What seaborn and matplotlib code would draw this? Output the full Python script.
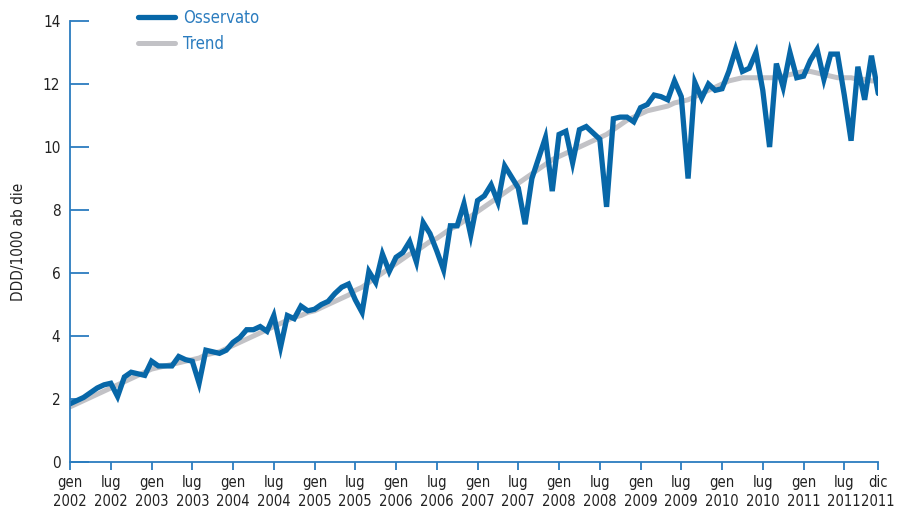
import matplotlib.pyplot as plt
import pandas as pd
import seaborn as sns

# Monthly values, gen 2002 .. dic 2011 (DDD/1000 ab die)
observed = [
    1.85, 1.95, 2.05, 2.2, 2.35, 2.45, 2.5, 2.08, 2.7, 2.85, 2.8, 2.75,
    3.2, 3.05, 3.05, 3.05, 3.35, 3.25, 3.2, 2.5, 3.55, 3.5, 3.45, 3.55,
    3.8, 3.95, 4.2, 4.2, 4.3, 4.15, 4.65, 3.65, 4.65, 4.55, 4.95, 4.8,
    4.85, 5.0, 5.1, 5.35, 5.55, 5.65, 5.15, 4.75, 6.05, 5.7, 6.6, 6.05,
    6.5, 6.65, 7.0, 6.35, 7.6, 7.25, 6.7, 6.1, 7.5, 7.5, 8.2, 7.2,
    8.3, 8.45, 8.8, 8.25, 9.4, 9.05, 8.7, 7.55, 9.0, 9.65, 10.3, 8.6,
    10.4, 10.5, 9.5, 10.55, 10.65, 10.45, 10.25, 8.1, 10.9, 10.95, 10.95, 10.8,
    11.25, 11.35, 11.65, 11.6, 11.5, 12.1, 11.6, 9.0, 12.05, 11.55, 12.0, 11.8,
    11.85, 12.4, 13.1, 12.4, 12.5, 13.0, 11.8, 10.0, 12.65, 11.9, 13.0, 12.2,
    12.25, 12.75, 13.1, 12.15, 12.95, 12.95, 11.65, 10.2, 12.55, 11.5, 12.9, 11.7,
]
trend = [
    1.75, 1.85, 1.95, 2.05, 2.15, 2.25, 2.35, 2.45, 2.55, 2.65, 2.75, 2.85,
    2.95, 3.0, 3.05, 3.1, 3.15, 3.2, 3.25, 3.3, 3.4, 3.45, 3.5, 3.6,
    3.7, 3.8, 3.9, 4.0, 4.1, 4.2, 4.3, 4.4, 4.5, 4.6, 4.65, 4.75,
    4.8, 4.9, 5.0, 5.1, 5.2, 5.3, 5.45, 5.55, 5.7, 5.85, 6.0, 6.15,
    6.3, 6.45, 6.6, 6.7, 6.85, 7.0, 7.1, 7.25, 7.4, 7.5, 7.65, 7.8,
    7.95, 8.1, 8.25, 8.4, 8.55, 8.7, 8.85, 9.0, 9.15, 9.3, 9.45, 9.6,
    9.7, 9.8, 9.9, 10.0, 10.1, 10.2, 10.3, 10.4, 10.55, 10.7, 10.85, 10.95,
    11.05, 11.15, 11.2, 11.25, 11.3, 11.4, 11.45, 11.5, 11.6, 11.7, 11.8, 11.9,
    12.0, 12.1, 12.15, 12.2, 12.2, 12.2, 12.2, 12.2, 12.2, 12.25, 12.3, 12.35,
    12.4, 12.4, 12.35, 12.3, 12.25, 12.2, 12.2, 12.2, 12.15, 12.15, 12.1, 12.1,
]
tick_months = [0, 6, 12, 18, 24, 30, 36, 42, 48, 54, 60, 66, 72, 78, 84,
               90, 96, 102, 108, 114, 119]
tick_labels = ["gen\n2002", "lug\n2002", "gen\n2003", "lug\n2003", "gen\n2004",
               "lug\n2004", "gen\n2005", "lug\n2005", "gen\n2006", "lug\n2006",
               "gen\n2007", "lug\n2007", "gen\n2008", "lug\n2008", "gen\n2009",
               "lug\n2009", "gen\n2010", "lug\n2010", "gen\n2011", "lug\n2011",
               "dic\n2011"]

df = pd.DataFrame({"month": range(len(observed)), "Osservato": observed, "Trend": trend})

sns.set_style("white")
plt.rcParams["font.family"] = ["DejaVu Sans"]
plt.rcParams["font.stretch"] = "condensed"

blue = "#0767a8"
axis_blue = "#2b7cbf"
gray = "#c2c2c6"
text_col = "#222222"

fig = plt.figure(figsize=(8.98, 5.13), dpi=100)
ax = fig.add_axes([0.078, 0.0994, 0.9, 0.8596])

sns.lineplot(ax=ax, data=df, x="month", y="Trend", color=gray, lw=3.6,
             label="Trend", solid_capstyle="round")
sns.lineplot(ax=ax, data=df, x="month", y="Osservato", color=blue, lw=3.8,
             label="Osservato", solid_joinstyle="miter")

ax.set_xlim(0, 119)
ax.set_ylim(0, 14)
ax.set_yticks(range(0, 15, 2))
ax.set_xticks(tick_months)
ax.set_xticklabels(tick_labels, fontsize=10.5, color=text_col, linespacing=1.4)
ax.tick_params(axis="y", left=True, direction="in", length=14, width=1.3,
               color=axis_blue, labelsize=11, labelcolor=text_col, pad=7)
ax.tick_params(axis="x", bottom=True, direction="out", length=6, width=1.3,
               color=axis_blue, pad=3)
ax.set_xlabel("")
ax.set_ylabel("DDD/1000 ab die", fontsize=11, color=text_col, labelpad=12)

for side in ["top", "right"]:
    ax.spines[side].set_visible(False)
for side in ["left", "bottom"]:
    ax.spines[side].set_color(axis_blue)
    ax.spines[side].set_linewidth(1.3)

handles, labels = ax.get_legend_handles_labels()
leg = ax.legend(handles[::-1], labels[::-1], loc="upper left",
                bbox_to_anchor=(0.066, 1.061), frameon=False, fontsize=12,
                handlelength=2.2, handletextpad=0.5, labelspacing=0.45)
for t in leg.get_texts():
    t.set_color(axis_blue)

fig.savefig("out.png", dpi=100)
